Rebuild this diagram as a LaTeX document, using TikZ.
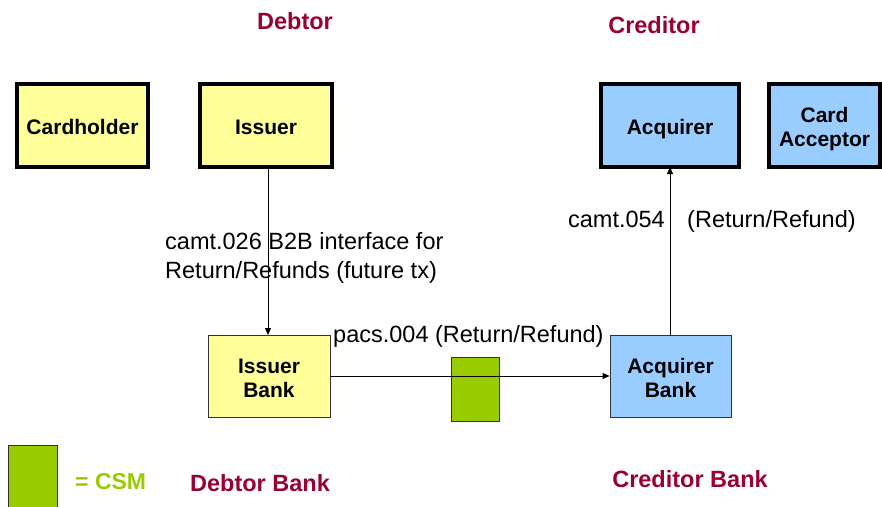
\documentclass[tikz,border=0pt]{standalone}
\usepackage{fontspec}
\setmainfont{Liberation Sans}
\usetikzlibrary{arrows.meta}
\definecolor{boxyellow}{HTML}{FFFF99}
\definecolor{boxblue}{HTML}{99CCFF}
\definecolor{csmgreen}{HTML}{99CC00}
\definecolor{titlered}{HTML}{990033}
\tikzset{
  topbox/.style={draw=black, line width=3.3pt, inner sep=0pt, align=center,
    font=\bfseries\fontsize{21}{24}\selectfont, text height=17pt, text depth=0pt},
  twoline/.style={text height=41pt, text depth=0pt},
  bankbox/.style={draw=black!80, line width=0.8pt, inner sep=0pt, align=center,
    font=\bfseries\fontsize{21}{24}\selectfont, text height=42pt, text depth=0pt},
  title/.style={text=titlered, font=\bfseries\fontsize{23.5}{26}\selectfont, inner sep=0pt},
  msg/.style={font=\fontsize{23.5}{29}\selectfont, inner sep=0pt, align=left},
  conn/.style={line width=0.8pt, -{Triangle[length=7pt,width=6pt]}},
}
\begin{document}
\begin{tikzpicture}[x=1pt,y=-1pt]
\useasboundingbox (0,0) rectangle (882,506);
% titles
\node[title] (tdebtor) at (295,21) {Debtor};
\node[title] (tcreditor) at (654,25) {Creditor};
\node[title] (tdebtorbank) at (260,483) {Debtor Bank};
\node[title] (tcreditorbank) at (690,479) {Creditor Bank};
% top boxes
\node[topbox, fill=boxyellow, minimum width=131pt, minimum height=83pt] (cardholder) at (82.5,125.5) {Cardholder};
\node[topbox, fill=boxyellow, minimum width=132pt, minimum height=83pt] (issuer) at (266,125.5) {Issuer};
\node[topbox, fill=boxblue, minimum width=138pt, minimum height=83pt] (acquirer) at (670,125.5) {Acquirer};
\node[topbox, twoline, fill=boxblue, minimum width=111pt, minimum height=83pt] (acceptor) at (824.5,125.5) {Card\\Acceptor};
% bank boxes
\node[bankbox, fill=boxyellow, minimum width=122pt, minimum height=82pt] (issuerbank) at (269,376) {Issuer\\Bank};
\node[bankbox, fill=boxblue, minimum width=121pt, minimum height=82pt] (acquirerbank) at (670.5,376) {Acquirer\\Bank};
% CSM
\node[draw=black!80, line width=0.8pt, fill=csmgreen, minimum width=48pt, minimum height=64pt, inner sep=0pt] (csm) at (475,389) {};
% connectors
\coordinate (issdown) at (268,167);
\coordinate (issbanktop) at (268,335);
\draw[conn] (issdown) -- (issbanktop);
\draw[conn] (issuerbank.east) -- (acquirerbank.west);
\coordinate (acqbanktop) at (670,335);
\coordinate (acqbottom) at (670,167);
\draw[conn] (acqbanktop) -- (acqbottom);
% message labels
\node[msg, anchor=north west] (camt026) at (165,232) {camt.026 B2B interface for\\Return/Refunds (future tx)};
\node[msg, anchor=base west] (pacs) at (333,342) {pacs.004 (Return/Refund)};
\node[msg, anchor=base east] (camt054) at (665,227) {camt.054};
\node[msg, anchor=base west] (rr054) at (687,227) {(Return/Refund)};
% legend
\node[draw=black!80, line width=0.8pt, fill=csmgreen, minimum width=49pt, minimum height=70pt, inner sep=0pt, anchor=north west] (legendbox) at (8,445) {};
\node[text=csmgreen, font=\bfseries\fontsize{23}{26}\selectfont, inner sep=0pt, anchor=base west] (legendtext) at (75,489) {= CSM};
\end{tikzpicture}
\end{document}
